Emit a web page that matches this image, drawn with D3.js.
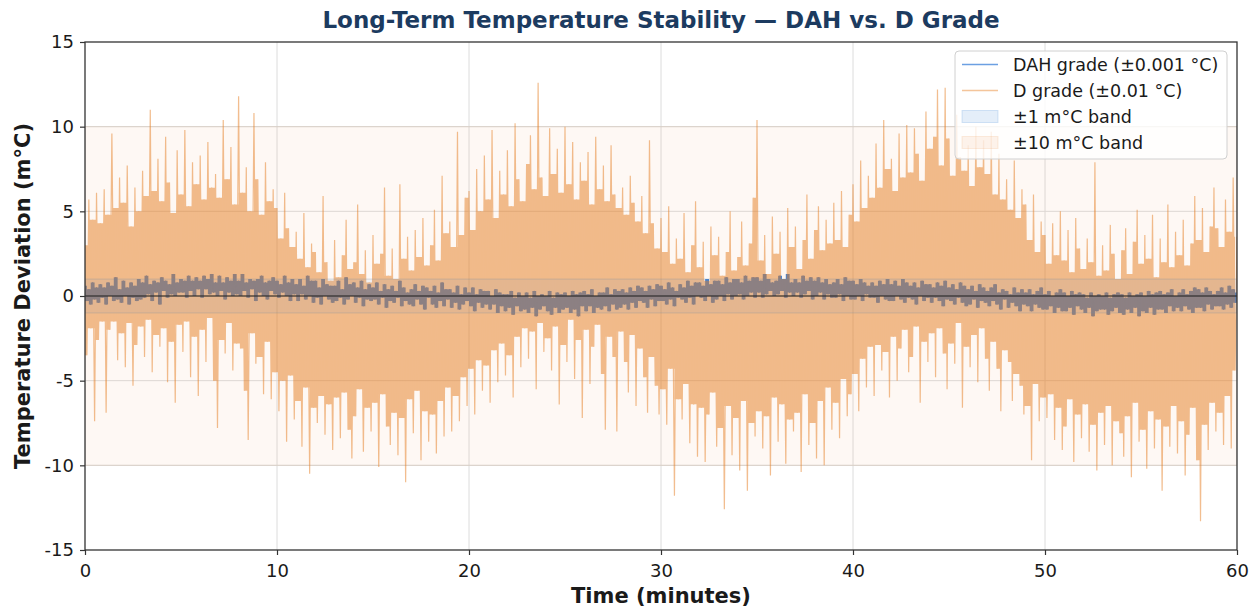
<!DOCTYPE html>
<html>
<head>
<meta charset="utf-8">
<script src="https://cdn.jsdelivr.net/npm/d3@7"></script>
<style>
  html, body { margin: 0; padding: 0; background: #ffffff; }
  svg { display: block; font-family: "DejaVu Sans", sans-serif; }
</style>
</head>
<body>
<svg id="chart" width="1256" height="609"></svg>
<script>
// ---------------- DATA ----------------
const titleText = "Long-Term Temperature Stability \u2014 DAH vs. D Grade";
const xLabel = "Time (minutes)";
const yLabel = "Temperature Deviation (m\u00B0C)";
const xTicks = [0, 10, 20, 30, 40, 50, 60];
const yTicks = [-15, -10, -5, 0, 5, 10, 15];
const gridY = [-10, -5, 0, 5, 10];
const seriesNames = ["DAH grade (\u00B10.001 \u00B0C)", "D grade (\u00B10.01 \u00B0C)"];
const bandNames = ["\u00B11 m\u00B0C band", "\u00B110 m\u00B0C band"];
const bandLimits = [1, 10];
const sampleStepMin = 0.1;   // one reading every 6 s

// D grade deviation (m°C), one value per sample
const dGrade = [
3.0,-3.5,5.7,-1.9,4.5,-7.4,6.1,-2.6,4.3,-1.5,
6.3,-6.9,4.8,-2.0,9.6,-1.5,5.2,-3.8,7.0,-2.2,
5.5,-4.2,7.7,-1.6,4.1,-5.3,6.4,-2.9,5.0,-1.8,
7.4,-3.6,5.9,-1.4,11.0,-4.5,6.2,-2.3,8.1,-3.0,
5.6,-1.9,9.4,-5.1,6.7,-2.7,4.9,-6.3,8.6,-1.7,
6.0,-3.3,9.8,-1.5,5.3,-4.8,7.9,-2.4,6.6,-5.9,
8.3,-2.0,5.7,-3.9,9.1,-1.3,6.4,-5.0,7.2,-7.8,
5.8,-2.6,10.4,-3.4,6.9,-1.6,8.8,-4.4,5.4,-2.8,
11.8,-3.1,6.1,-5.6,7.6,-8.5,5.0,-2.2,10.8,-4.0,
6.9,-3.6,4.8,-5.8,7.9,-2.7,5.6,-6.1,6.3,-4.5,
5.2,-6.8,3.4,-5.0,6.1,-8.6,4.0,-4.7,2.9,-7.3,
3.8,-6.2,2.2,-8.9,4.9,-5.4,1.7,-10.5,3.1,-6.6,
2.6,-7.5,1.4,-5.9,5.9,-8.2,2.0,-6.4,0.9,-9.1,
3.3,-6.0,1.1,-8.4,2.4,-5.7,4.5,-7.9,1.6,-9.6,
2.0,-7.1,5.4,-5.5,1.3,-9.2,2.7,-6.6,0.8,-8.0,
3.6,-6.3,1.9,-10.1,2.5,-5.8,6.4,-7.7,1.2,-8.8,
2.8,-6.9,1.0,-9.4,6.6,-7.2,2.2,-11.0,3.5,-6.1,
1.5,-8.1,3.9,-5.6,2.3,-9.7,4.6,-6.8,1.8,-8.6,
3.0,-7.0,5.1,-9.3,2.1,-6.2,7.1,-8.3,3.7,-5.4,
4.4,-8.0,2.9,-5.9,9.7,-7.4,3.6,-4.8,5.8,-6.5,
6.2,-4.3,3.9,-7.0,7.5,-3.8,5.0,-5.6,8.3,-4.1,
5.7,-6.3,9.8,-3.2,4.6,-5.1,7.4,-2.8,6.0,-4.7,
8.6,-3.5,5.3,-6.0,10.2,-2.4,6.9,-4.2,5.6,-1.9,
7.8,-3.7,9.5,-2.1,6.3,-5.5,12.6,-1.6,7.0,-3.3,
5.9,-2.5,9.9,-4.4,7.2,-1.8,8.7,-6.4,6.1,-2.9,
10.0,-3.9,6.6,-1.4,9.1,-4.9,5.7,-2.6,7.9,-7.2,
6.8,-2.0,8.5,-5.2,5.4,-3.0,9.4,-1.7,6.3,-4.6,
7.7,-7.9,5.6,-2.4,8.9,-3.6,6.0,-8.0,5.2,-2.1,
6.4,-3.9,4.8,-5.7,7.1,-2.3,5.5,-6.5,4.4,-3.1,
5.9,-4.8,3.7,-6.9,9.2,-3.6,4.3,-5.3,2.8,-7.0,
4.6,-5.5,2.6,-7.6,5.3,-4.3,1.9,-11.8,3.4,-6.1,
2.2,-7.3,4.9,-5.2,1.4,-8.7,3.0,-6.4,5.6,-9.5,
1.7,-6.6,3.2,-9.8,0.9,-7.0,4.1,-5.7,2.4,-8.9,
3.5,-7.8,1.2,-12.6,2.6,-6.5,5.0,-9.4,1.5,-7.2,
2.3,-10.3,4.4,-6.2,1.8,-11.5,3.1,-7.5,5.8,-8.3,
10.4,-6.8,2.1,-9.0,3.6,-7.1,1.3,-10.6,4.7,-6.0,
2.5,-8.6,3.8,-6.4,1.0,-9.9,5.2,-7.3,2.9,-8.0,
4.1,-6.9,1.6,-10.4,3.3,-5.8,6.0,-8.8,2.2,-7.5,
3.9,-9.6,5.3,-6.2,2.7,-10.0,4.5,-5.4,3.1,-7.9,
5.5,-6.3,3.3,-8.4,6.2,-4.9,2.9,-7.1,4.8,-5.8,
6.6,-4.6,4.4,-6.8,8.0,-3.7,5.2,-5.4,7.1,-3.0,
5.8,-5.9,9.0,-2.9,6.4,-4.4,10.4,-3.3,7.5,-6.0,
8.1,-2.4,6.2,-5.0,9.6,-3.1,7.0,-2.0,10.1,-4.5,
7.3,-3.6,9.9,-1.8,8.4,-6.3,6.8,-2.7,10.9,-3.9,
8.7,-2.2,9.4,-4.8,12.2,-1.9,7.7,-3.4,12.3,-5.5,
9.3,-2.8,7.1,-4.0,10.7,-1.6,8.2,-6.6,7.4,-3.0,
8.9,-4.2,6.5,-2.3,10.0,-5.1,7.6,-1.9,9.2,-3.7,
7.2,-5.6,9.7,-2.7,6.0,-4.3,8.4,-6.8,5.7,-3.2,
6.9,-3.9,5.1,-6.2,8.0,-4.6,4.6,-5.3,6.3,-7.0,
5.4,-6.5,3.3,-9.7,6.0,-5.2,2.6,-7.4,4.4,-6.0,
3.6,-7.2,1.9,-5.8,4.3,-8.5,2.4,-6.6,5.0,-9.1,
2.1,-7.7,3.9,-6.1,1.4,-9.8,4.6,-7.0,2.8,-8.4,
1.6,-6.4,3.4,-9.2,2.0,-7.6,7.9,-10.3,1.2,-6.9,
3.0,-8.8,1.5,-6.5,4.2,-10.0,2.5,-7.4,1.0,-8.1,
2.7,-9.5,4.0,-7.1,1.3,-10.7,3.2,-6.3,5.1,-8.6,
1.9,-7.9,3.6,-10.2,2.2,-6.8,4.8,-9.0,1.1,-7.3,
3.4,-11.5,2.0,-7.7,5.4,-8.9,1.7,-6.5,3.8,-9.3,
2.4,-7.4,4.5,-10.6,1.8,-8.2,3.1,-6.6,5.9,-9.7,
3.3,-13.3,5.2,-7.6,2.6,-9.1,4.1,-6.3,6.4,-8.0,
4.0,-6.9,2.9,-8.8,5.7,-5.9,3.8,-9.0,7.0,-4.4,
3.5
];

// DAH grade deviation (m°C), one value per sample
const dahGrade = [
0.6,-0.3,0.4,-0.5,0.8,-0.2,0.5,-0.4,0.7,-0.1,
0.5,-0.5,0.8,0.0,0.6,-0.3,1.1,-0.2,0.4,-0.4,
0.9,0.0,0.5,-0.5,0.8,-0.1,0.6,-0.3,1.0,-0.2,
0.8,-0.1,1.2,0.1,0.7,-0.3,0.9,0.2,0.8,-0.5,
1.1,0.3,0.9,-0.1,0.7,0.1,1.3,0.0,0.8,0.2,
1.0,0.2,0.9,-0.1,1.2,0.3,0.9,0.0,1.1,0.4,
0.9,-0.1,1.2,0.4,1.0,0.1,1.3,0.2,0.8,0.0,
1.2,0.3,0.8,-0.2,1.1,0.2,0.9,0.0,1.3,0.1,
0.9,0.0,1.3,0.3,0.8,-0.1,1.0,0.4,0.9,-0.3,
1.0,0.2,1.2,0.0,0.8,-0.2,0.9,0.3,1.1,0.1,
0.9,-0.1,0.7,0.2,1.2,0.0,0.8,-0.3,1.0,0.1,
0.7,-0.3,1.0,0.1,0.6,-0.2,1.2,0.0,0.9,-0.4,
0.9,-0.1,0.5,-0.5,1.0,0.0,0.7,-0.2,0.6,-0.4,
0.6,-0.3,0.9,-0.1,0.4,-0.5,1.1,-0.2,0.7,0.0,
0.8,-0.4,0.5,-0.1,0.9,-0.6,0.4,-0.2,0.7,-0.3,
0.5,-0.2,0.8,-0.5,0.3,-0.1,0.7,-0.7,0.4,-0.3,
0.6,-0.4,0.3,-0.1,0.9,-0.6,0.5,-0.3,0.2,-0.5,
0.4,-0.6,0.7,-0.2,0.3,-0.5,0.6,-0.8,0.5,-0.1,
0.3,-0.5,0.6,-0.7,0.2,-0.3,0.8,-0.6,0.4,-0.2,
0.4,-0.7,0.2,-0.4,0.6,-0.8,0.1,-0.5,0.5,-0.3,
0.2,-0.6,0.5,-0.9,0.1,-0.4,0.4,-0.7,0.3,-0.5,
0.3,-0.8,0.0,-0.5,0.4,-1.0,0.2,-0.6,0.1,-0.9,
0.1,-0.7,0.3,-1.1,-0.1,-0.6,0.2,-0.9,0.0,-0.8,
0.2,-1.0,-0.1,-0.7,0.3,-1.2,0.0,-0.8,0.1,-0.6,
0.0,-0.9,0.3,-1.1,-0.1,-0.7,0.2,-1.0,0.1,-0.8,
0.2,-0.7,0.0,-1.0,0.3,-0.8,0.1,-1.2,0.2,-0.6,
0.3,-0.9,0.1,-0.6,0.4,-1.0,0.0,-0.7,0.2,-0.8,
0.2,-0.6,0.5,-0.9,0.1,-0.5,0.4,-0.8,0.3,-0.7,
0.4,-0.5,0.2,-0.8,0.5,-0.4,0.3,-0.7,0.6,-0.3,
0.5,-0.4,0.3,-0.7,0.6,-0.2,0.4,-0.6,0.7,-0.3,
0.6,-0.3,0.4,-0.5,0.8,-0.2,0.5,-0.6,0.3,-0.1,
0.7,-0.2,0.5,-0.4,0.9,-0.1,0.6,-0.5,0.8,0.0,
0.8,-0.1,0.6,-0.3,1.0,0.0,0.7,-0.4,0.9,-0.2,
0.9,0.0,0.7,-0.3,1.1,0.1,0.8,-0.2,1.0,0.0,
1.0,0.1,0.8,-0.2,1.2,0.0,0.9,0.2,1.1,-0.1,
1.1,0.2,0.9,-0.1,1.3,0.1,1.0,0.3,0.8,0.0,
0.9,0.1,1.2,0.3,1.0,-0.1,1.3,0.2,0.8,0.0,
1.0,0.2,0.8,-0.1,1.2,0.1,0.9,0.3,1.1,-0.2,
0.9,0.0,1.1,0.2,0.8,-0.2,1.0,0.1,0.7,-0.1,
0.8,-0.1,1.0,0.1,0.7,-0.3,1.1,0.0,0.9,-0.2,
0.9,-0.2,0.7,0.0,1.0,-0.3,0.8,0.1,0.6,-0.1,
0.8,-0.1,0.6,-0.4,0.9,0.0,0.7,-0.2,1.0,-0.3,
0.7,-0.3,0.9,0.0,0.6,-0.2,1.0,-0.4,0.8,-0.1,
0.6,-0.2,0.8,-0.5,0.5,0.0,0.9,-0.3,0.7,-0.1,
0.7,-0.4,0.5,-0.1,0.8,-0.3,0.6,-0.6,0.9,-0.2,
0.5,-0.3,0.7,-0.5,0.4,-0.1,0.8,-0.4,0.6,-0.6,
0.4,-0.5,0.6,-0.2,0.3,-0.7,0.7,-0.3,0.5,-0.4,
0.3,-0.6,0.5,-0.3,0.7,-0.5,0.2,-0.8,0.4,-0.2,
0.3,-0.7,0.1,-0.4,0.5,-0.6,0.2,-0.9,0.4,-0.5,
0.2,-0.6,0.4,-0.9,0.1,-0.5,0.3,-0.7,0.5,-0.8,
0.1,-0.8,0.3,-0.6,0.0,-1.0,0.2,-0.7,0.4,-0.9,
0.2,-0.9,0.0,-0.7,0.3,-1.1,0.1,-0.6,0.2,-0.8,
0.1,-1.0,-0.1,-0.7,0.2,-1.2,0.0,-0.9,0.1,-0.8,
0.0,-0.8,0.2,-1.1,-0.1,-0.9,0.1,-0.7,0.2,-1.0,
0.1,-1.1,-0.1,-0.8,0.2,-1.0,0.0,-0.7,0.1,-1.2,
0.2,-0.9,0.0,-1.0,0.3,-0.7,0.1,-1.1,0.2,-0.8,
0.3,-0.8,0.1,-1.0,0.2,-0.6,0.4,-0.9,0.0,-0.7,
0.2,-0.9,0.4,-0.6,0.1,-0.8,0.3,-1.0,0.5,-0.7,
0.4,-0.7,0.2,-0.9,0.5,-0.5,0.3,-0.8,0.1,-0.6,
0.3,-0.6,0.5,-0.8,0.2,-0.5,0.6,-0.7,0.4,-0.4,
0.2
];

// ---------------- CHART ----------------
const W = 1256, H = 609;
const margin = { left: 85, right: 19, top: 42, bottom: 59 };
const iw = W - margin.left - margin.right;
const ih = H - margin.top - margin.bottom;

const colors = {
  dah: "#2d78d6",
  d: "#e67e22",
  band1: "#4a90d9",
  band10: "#f0a060",
  title: "#1c3b60",
  text: "#1a1a1a"
};

const svg = d3.select("#chart");
const x = d3.scaleLinear().domain([0, 60]).range([margin.left, margin.left + iw]);
const y = d3.scaleLinear().domain([-15, 15]).range([margin.top + ih, margin.top]);

svg.append("defs").append("clipPath").attr("id", "plotclip")
  .append("rect").attr("x", margin.left).attr("y", margin.top).attr("width", iw).attr("height", ih);

// grid
const grid = svg.append("g");
grid.selectAll(".gx").data(xTicks.slice(1, -1)).join("line")
  .attr("x1", d => x(d)).attr("x2", d => x(d))
  .attr("y1", margin.top).attr("y2", margin.top + ih)
  .attr("stroke", "#dcdcdc").attr("stroke-width", 1);
grid.selectAll(".gy").data(gridY).join("line")
  .attr("y1", d => y(d)).attr("y2", d => y(d))
  .attr("x1", margin.left).attr("x2", margin.left + iw)
  .attr("stroke", "#dcdcdc").attr("stroke-width", 1);

const plot = svg.append("g").attr("clip-path", "url(#plotclip)");

// ±10 band (behind)
plot.append("rect")
  .attr("x", x(0)).attr("width", x(60) - x(0))
  .attr("y", y(bandLimits[1])).attr("height", y(-bandLimits[1]) - y(bandLimits[1]))
  .attr("fill", colors.band10).attr("fill-opacity", 0.07)
  .attr("stroke", "#d8c8b8").attr("stroke-opacity", 0.5);

// Column spans of a dense trace: between two consecutive samples the trace
// covers everything from the lower to the higher reading.
function columnSpans(values) {
  const n = values.length;
  return values.map((v, i) => {
    const nx = i + 1 < n ? values[i + 1] : v;
    return { t: i * sampleStepMin, top: Math.max(v, nx), bot: Math.min(v, nx) };
  });
}
// Band crossed by every neighbouring segment (filled solid); excursions beyond
// it are drawn by the thin line itself.
function denseCore(values) {
  const cols = columnSpans(values);
  const n = cols.length;
  return cols.map((c, i) => {
    const a = cols[Math.max(0, i - 1)], b = cols[Math.min(n - 1, i + 1)];
    return { t: c.t, top: Math.min(a.top, c.top, b.top), bot: Math.max(a.bot, c.bot, b.bot) };
  });
}
const spanArea = d3.area()
  .x(d => x(d.t)).y0(d => y(d.bot)).y1(d => y(d.top))
  .curve(d3.curveStepAfter);
const lineGen = d3.line().x((d, i) => x(i * sampleStepMin)).y(d => y(d));

// DAH grade (underneath)
const gDah = plot.append("g").attr("opacity", 0.92);
gDah.append("path").datum(columnSpans(dahGrade)).attr("d", spanArea).attr("fill", colors.dah);
gDah.append("path").datum(dahGrade).attr("d", lineGen).attr("fill", "none")
  .attr("stroke", colors.dah).attr("stroke-width", 1.0).attr("stroke-linejoin", "bevel");

// D grade (on top, translucent)
const gD = plot.append("g").attr("opacity", 0.5);
gD.append("path").datum(denseCore(dGrade)).attr("d", spanArea).attr("fill", colors.d);
gD.append("path").datum(dGrade).attr("d", lineGen).attr("fill", "none")
  .attr("stroke", colors.d).attr("stroke-width", 1.2).attr("stroke-linejoin", "bevel");

// ±1 band (on top, translucent)
plot.append("rect")
  .attr("x", x(0)).attr("width", x(60) - x(0))
  .attr("y", y(bandLimits[0])).attr("height", y(-bandLimits[0]) - y(bandLimits[0]))
  .attr("fill", colors.band1).attr("fill-opacity", 0.08)
  .attr("stroke", "#7f8fa0").attr("stroke-opacity", 0.3);

// zero line
plot.append("line")
  .attr("x1", x(0)).attr("x2", x(60)).attr("y1", y(0)).attr("y2", y(0))
  .attr("stroke", "#222").attr("stroke-width", 1.4).attr("stroke-opacity", 0.7);

// axes
const xAxis = d3.axisBottom(x).tickValues(xTicks).tickSize(5).tickPadding(9).tickFormat(d => String(d));
const yAxis = d3.axisLeft(y).tickValues(yTicks).tickSize(5).tickPadding(6).tickFormat(d => String(d));
const gx = svg.append("g").attr("transform", `translate(0,${margin.top + ih})`).call(xAxis);
const gy = svg.append("g").attr("transform", `translate(${margin.left},0)`).call(yAxis);
[gx, gy].forEach(g => {
  g.select(".domain").remove();
  g.selectAll("line").attr("stroke", "#333").attr("stroke-width", 1.2);
  g.selectAll("text").attr("fill", colors.text).style("font-size", "18px").style("font-family", "DejaVu Sans");
});

// spines
svg.append("rect")
  .attr("x", margin.left).attr("y", margin.top).attr("width", iw).attr("height", ih)
  .attr("fill", "none").attr("stroke", "#333").attr("stroke-width", 1.3);

// labels
svg.append("text").attr("x", x(30)).attr("y", 28).attr("text-anchor", "middle")
  .attr("fill", colors.title).style("font-size", "23px").style("font-weight", "bold")
  .text(titleText);
svg.append("text").attr("x", x(30)).attr("y", 603).attr("text-anchor", "middle")
  .attr("fill", colors.text).style("font-size", "21px").style("font-weight", "bold")
  .text(xLabel);
svg.append("text").attr("transform", `translate(30,${y(0)}) rotate(-90)`).attr("text-anchor", "middle")
  .attr("fill", colors.text).style("font-size", "21px").style("font-weight", "bold")
  .text(yLabel);

// legend
const lg = svg.append("g").attr("transform", "translate(955,51)");
lg.append("rect").attr("width", 272).attr("height", 108).attr("rx", 4)
  .attr("fill", "#ffffff").attr("fill-opacity", 0.8).attr("stroke", "#d0d0d0");
const legendItems = [
  { name: seriesNames[0], type: "line", color: colors.dah, op: 0.7 },
  { name: seriesNames[1], type: "line", color: colors.d, op: 0.45 },
  { name: bandNames[0], type: "patch", color: colors.band1, op: 0.15 },
  { name: bandNames[1], type: "patch", color: colors.band10, op: 0.12 }
];
legendItems.forEach((it, i) => {
  const cy = 13.5 + i * 26;
  if (it.type === "line") {
    lg.append("line").attr("x1", 7).attr("x2", 43).attr("y1", cy).attr("y2", cy)
      .attr("stroke", it.color).attr("stroke-opacity", it.op).attr("stroke-width", 1.3);
  } else {
    lg.append("rect").attr("x", 7).attr("y", cy - 6).attr("width", 36).attr("height", 12)
      .attr("fill", it.color).attr("fill-opacity", it.op)
      .attr("stroke", it.color).attr("stroke-opacity", it.op * 1.5);
  }
  lg.append("text").attr("x", 58).attr("y", cy + 6.5).attr("fill", colors.text)
    .style("font-size", "17.5px").text(it.name);
});
</script>
</body>
</html>
